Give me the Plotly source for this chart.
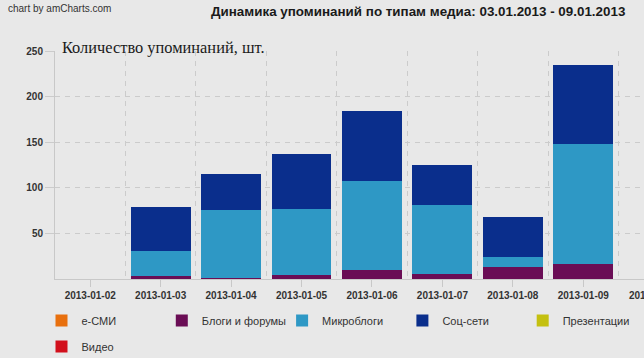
import plotly.graph_objects as go

# ---- data ----
dates = ["2013-01-02", "2013-01-03", "2013-01-04", "2013-01-05",
         "2013-01-06", "2013-01-07", "2013-01-08", "2013-01-09"]
next_date_label = "2013-01-10"

e_smi        = [0, 0, 0, 0, 0, 0, 0, 0]
blogs_forums = [0, 3, 1, 4, 10, 5, 13, 17]
microblogs   = [0, 28, 75, 73, 98, 76, 11, 131]
social       = [0, 48, 39, 60, 76, 44, 44, 87]
presentations = [0, 0, 0, 0, 0, 0, 0, 0]
video        = [0, 0, 0, 0, 0, 0, 0, 0]

y_ticks = [50, 100, 150, 200, 250]

series = [
    ("е-СМИ", e_smi, "#e8700e", "legend"),
    ("Блоги и форумы", blogs_forums, "#6a0d55", "legend"),
    ("Микроблоги", microblogs, "#2e98c5", "legend"),
    ("Соц-сети", social, "#0a2e8c", "legend"),
    ("Презентации", presentations, "#c4c010", "legend"),
    ("Видео", video, "#d2101c", "legend2"),
]

BG = "#e8e8e8"
GRID = "#cbcbcb"
FONT = "Liberation Sans, Arial, sans-serif"

fig = go.Figure()
for name, vals, color, lg in series:
    fig.add_trace(go.Bar(
        x=dates, y=vals, name=name, legend=lg,
        marker=dict(color=color, line=dict(width=0)),
        hoverinfo="skip",
    ))

W, H = 644, 358
L, R, T, B = 55, 0, 51, 79
pw = W - L - R
ph = H - T - B

fig.update_layout(
    width=W, height=H,
    margin=dict(l=L, r=R, t=T, b=B, pad=0),
    paper_bgcolor=BG, plot_bgcolor=BG,
    barmode="stack", bargap=0.15,
    font=dict(family=FONT, size=11, color="#333333"),
    title=dict(
        text="<b>Динамика упоминаний по типам медиа: 03.01.2013 - 09.01.2013</b>",
        font=dict(family=FONT, size=13.4, color="#1a1a1a"),
        xref="container", x=211 / W, xanchor="left",
        yref="container", y=1 - 11 / H, yanchor="middle",
    ),
    xaxis=dict(
        type="date",
        range=["2013-01-01 12:00", "2013-01-09 20:41"],
        tick0="2013-01-02", dtick=86400000, tickformat="%Y-%m-%d",
        showgrid=False,
        ticks="outside", ticklen=7, tickcolor="#c8c8c8", tickwidth=1,
        showline=True, linecolor="#c8c8c8", linewidth=1,
        tickfont=dict(family=FONT, size=10, color="#333333", weight="bold"),
        minor=dict(tick0="2013-01-01 12:00", dtick=86400000, showgrid=True,
                   gridcolor=GRID, griddash="5px,5px", gridwidth=1, ticks=""),
        zeroline=False, fixedrange=True,
    ),
    yaxis=dict(
        range=[0, 250], tickvals=y_ticks,
        showgrid=True, gridcolor=GRID, griddash="5px,5px", gridwidth=1,
        ticks="outside", ticklen=9, tickcolor=GRID,
        showline=True, linecolor="#c8c8c8", linewidth=1,
        tickfont=dict(family=FONT, size=10, color="#333333", weight="bold"),
        zeroline=False, fixedrange=True,
    ),
    legend=dict(
        orientation="h", xref="paper", x=(41.5 - L) / pw, xanchor="left",
        yref="paper", y=(279 - 306) / ph, yanchor="top",
        entrywidth=75.3, entrywidthmode="pixels",
        bgcolor="rgba(0,0,0,0)", borderwidth=0,
        font=dict(family=FONT, size=11, color="#333333"),
        traceorder="normal",
    ),
    legend2=dict(
        orientation="h", xref="container", x=41.5 / W, xanchor="left",
        yref="container", y=1 - 332 / H, yanchor="top",
        bgcolor="rgba(0,0,0,0)", borderwidth=0,
        font=dict(family=FONT, size=11, color="#333333"),
    ),
    showlegend=True,
)

# partial tick label cut by the right edge (as in the reference)
fig.add_annotation(
    text=f"<b>{next_date_label}</b>", xref="paper", yref="paper",
    x=(655 - L) / pw, y=0, xanchor="center", yanchor="top", yshift=-9,
    showarrow=False, font=dict(family=FONT, size=10, color="#333333"),
)
# axis title
fig.add_annotation(
    text="Количество упоминаний, шт.", xref="paper", yref="paper",
    x=(60 - L) / pw, y=1, xanchor="left", yanchor="middle", yshift=4,
    showarrow=False, font=dict(family="Liberation Serif, Times New Roman, serif", size=16.4, color="#1a1a1a"),
)
# credit
fig.add_annotation(
    text="chart by amCharts.com", xref="paper", yref="paper",
    x=(6 - L) / pw, y=1, xanchor="left", yanchor="middle", yshift=T - 8,
    showarrow=False, font=dict(family=FONT, size=10, color="#333333"),
)

fig.write_html(
    "out.html",
    config={"displayModeBar": False},
    post_script="document.body.style.margin='0';document.body.style.overflow='hidden';",
)
